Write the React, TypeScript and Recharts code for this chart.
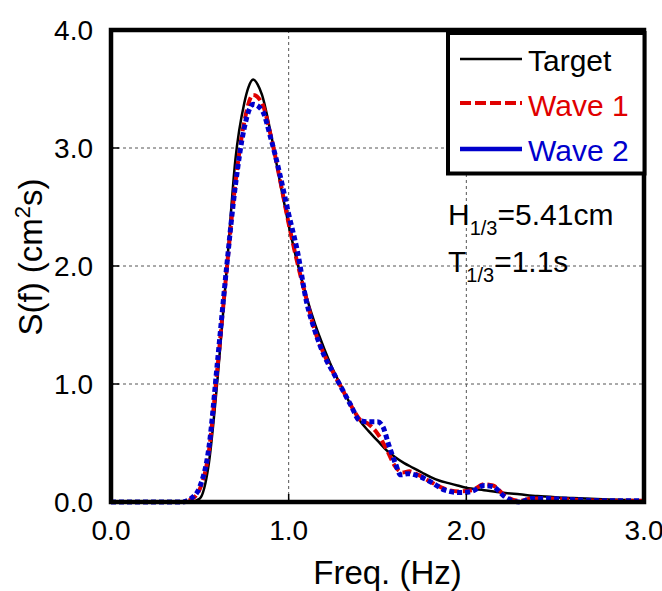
import { LineChart, Line, XAxis, YAxis, CartesianGrid } from "recharts";

// target spectrum
const targetFreq = [0, 0.2, 0.4, 0.45, 0.5, 0.55, 0.6, 0.65, 0.7, 0.75, 0.775, 0.8, 0.825, 0.85, 0.9, 0.95, 1.0, 1.05, 1.1, 1.15, 1.2, 1.25, 1.3, 1.35, 1.4, 1.45, 1.5, 1.55, 1.6, 1.65, 1.7, 1.75, 1.8, 1.85, 1.9, 1.95, 2.0, 2.1, 2.2, 2.3, 2.4, 2.5, 2.6, 2.7, 2.8, 2.9, 3.0];
const targetS = [0, 0, 0, 0.002, 0.03, 0.32, 1.05, 1.95, 2.9, 3.38, 3.52, 3.58, 3.54, 3.45, 3.12, 2.72, 2.35, 2.02, 1.74, 1.5, 1.3, 1.12, 0.97, 0.82, 0.69, 0.6, 0.52, 0.44, 0.38, 0.33, 0.29, 0.25, 0.21, 0.18, 0.16, 0.14, 0.12, 0.1, 0.08, 0.065, 0.05, 0.04, 0.033, 0.027, 0.022, 0.018, 0.015];

// wave 1 (red dashed)
const wave1Freq = [0, 0.4, 0.45, 0.5, 0.55, 0.6, 0.65, 0.7, 0.75, 0.8, 0.85, 0.9, 0.95, 1.0, 1.05, 1.1, 1.15, 1.2, 1.25, 1.3, 1.35, 1.4, 1.45, 1.5, 1.55, 1.6, 1.64, 1.68, 1.73, 1.8, 1.88, 1.96, 2.03, 2.1, 2.15, 2.22, 2.3, 2.37, 2.45, 2.6, 2.8, 3.0];
const wave1S = [0, 0, 0.02, 0.11, 0.42, 1.15, 1.95, 2.7, 3.22, 3.45, 3.38, 3.1, 2.74, 2.36, 2.02, 1.72, 1.44, 1.25, 1.1, 0.96, 0.82, 0.7, 0.66, 0.58, 0.45, 0.3, 0.25, 0.26, 0.23, 0.17, 0.11, 0.09, 0.1, 0.15, 0.14, 0.05, 0.01, 0.03, 0.03, 0.02, 0.01, 0.01];

// wave 2 (blue dotted)
const wave2Freq = [0, 0.4, 0.45, 0.5, 0.55, 0.6, 0.65, 0.7, 0.75, 0.8, 0.85, 0.9, 0.95, 1.0, 1.05, 1.1, 1.15, 1.2, 1.25, 1.3, 1.35, 1.4, 1.45, 1.5, 1.53, 1.56, 1.6, 1.63, 1.67, 1.73, 1.8, 1.88, 1.96, 2.03, 2.1, 2.15, 2.22, 2.3, 2.37, 2.45, 2.6, 2.8, 3.0];
const wave2S = [0, 0, 0.03, 0.13, 0.45, 1.2, 1.98, 2.68, 3.17, 3.37, 3.32, 3.08, 2.78, 2.44, 2.12, 1.7, 1.44, 1.24, 1.1, 0.96, 0.82, 0.69, 0.68, 0.68, 0.64, 0.5, 0.33, 0.23, 0.24, 0.22, 0.17, 0.1, 0.08, 0.09, 0.14, 0.13, 0.04, 0.0, 0.03, 0.03, 0.02, 0.01, 0.01];

const xTicks = [0, 1, 2, 3];
const yTicks = [0, 1, 2, 3, 4];

const FONT = "'Liberation Sans', Arial, Helvetica, sans-serif";

const toPoints = (fs: number[], ss: number[]) => fs.map((f, i) => ({ f, s: ss[i] }));

const targetData = toPoints(targetFreq, targetS);
const wave1Data = toPoints(wave1Freq, wave1S);
const wave2Data = toPoints(wave2Freq, wave2S);

const YLabel = () => (
  <text
    x={42}
    y={257}
    transform="rotate(-90, 42, 257)"
    textAnchor="middle"
    fontFamily={FONT}
    fontSize={33}
    fill="#000"
  >
    S(f) (cm
    <tspan fontSize={22} dy={-12}>2</tspan>
    <tspan dy={12}>s)</tspan>
  </text>
);

export default function App() {
  return (
    <div style={{ position: "absolute", left: 0, top: 0, width: 662, height: 591, background: "#fff" }}>
      <LineChart width={662} height={591} margin={{ top: 30, right: 18, left: 0, bottom: 0 }}>
        <CartesianGrid stroke="#555" strokeDasharray="3 3" strokeWidth={1} />
        <XAxis
          type="number"
          dataKey="f"
          domain={[0, 3]}
          ticks={xTicks}
          tickFormatter={(v: number) => v.toFixed(1)}
          height={89}
          axisLine={false}
          tickLine={{ stroke: "#000", strokeWidth: 1.5 }}
          tickSize={-8}
          tickMargin={26}
          tick={{ fontSize: 28, fill: "#000", fontFamily: FONT }}
          label={{ value: "Freq. (Hz)", position: "insideBottom", offset: 7, dx: 10, fontSize: 33, fill: "#000", fontFamily: FONT }}
        />
        <YAxis
          type="number"
          domain={[0, 4]}
          ticks={yTicks}
          tickFormatter={(v: number) => v.toFixed(1)}
          width={111}
          axisLine={false}
          tickLine={{ stroke: "#000", strokeWidth: 1.5 }}
          tickSize={-8}
          tickMargin={26}
          tick={{ fontSize: 28, fill: "#000", fontFamily: FONT }}
          label={<YLabel />}
        />
        <Line data={targetData} dataKey="s" type="monotone" stroke="#000" strokeWidth={2.5} dot={false} isAnimationActive={false} />
        <Line data={wave1Data} dataKey="s" type="monotone" stroke="#e00000" strokeWidth={4} strokeDasharray="9 4" dot={false} isAnimationActive={false} />
        <Line data={wave2Data} dataKey="s" type="monotone" stroke="#0000cc" strokeWidth={5} strokeDasharray="5 3" dot={false} isAnimationActive={false} />
      </LineChart>

      <svg width={662} height={591} style={{ position: "absolute", left: 0, top: 0, pointerEvents: "none" }} fontFamily={FONT}>
        {/* plot frame */}
        <rect x={111} y={30} width={533} height={472} fill="none" stroke="#000" strokeWidth={4.5} />

        {/* legend */}
        <rect x={448} y={33} width={196.5} height={140.5} fill="#fff" stroke="#000" strokeWidth={4} />
        <line x1={460} x2={522} y1={59} y2={59} stroke="#000" strokeWidth={2.5} />
        <text x={528} y={71} fontSize={30} fill="#000">Target</text>
        <line x1={460} x2={522} y1={103} y2={103} stroke="#e00000" strokeWidth={4} strokeDasharray="11 4" />
        <text x={528} y={116} fontSize={30} fill="#e00000">Wave 1</text>
        <line x1={460} x2={522} y1={149} y2={149} stroke="#0000cc" strokeWidth={4.5} />
        <text x={528} y={161} fontSize={30} fill="#0000cc">Wave 2</text>

        {/* wave statistics */}
        <text x={448} y={225} fontSize={30} fill="#000">
          H<tspan fontSize={20} dy={10}>1/3</tspan>
          <tspan dy={-10}>=5.41cm</tspan>
        </text>
        <text x={448} y={272} fontSize={30} fill="#000">
          T<tspan fontSize={20} dy={10}>1/3</tspan>
          <tspan dy={-10}>=1.1s</tspan>
        </text>
      </svg>
    </div>
  );
}
